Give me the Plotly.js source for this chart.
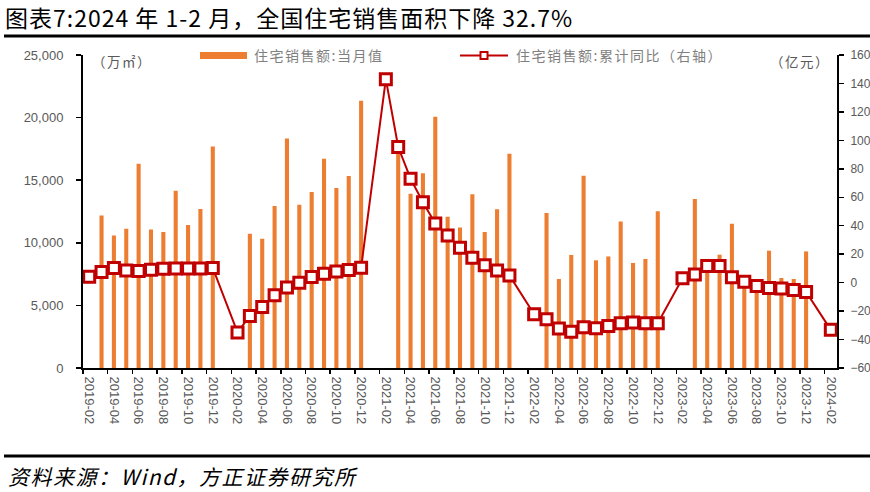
<!DOCTYPE html>
<html>
<head>
<meta charset="utf-8">
<script src="https://cdn.plot.ly/plotly-3.0.1.min.js"></script>
<style>
html,body{margin:0;padding:0;background:#fff;}
#chart{width:870px;height:492px;}
.annotation-text{letter-spacing:1.5px;}
.gtitle{letter-spacing:1px;}
</style>
</head>
<body>
<div id="chart"></div>
<script>
// Categories: monthly, 2019-02 .. 2024-02
const months = [
 "2019-02","2019-03","2019-04","2019-05","2019-06","2019-07","2019-08","2019-09","2019-10","2019-11","2019-12",
 "2020-01","2020-02","2020-03","2020-04","2020-05","2020-06","2020-07","2020-08","2020-09","2020-10","2020-11","2020-12",
 "2021-01","2021-02","2021-03","2021-04","2021-05","2021-06","2021-07","2021-08","2021-09","2021-10","2021-11","2021-12",
 "2022-01","2022-02","2022-03","2022-04","2022-05","2022-06","2022-07","2022-08","2022-09","2022-10","2022-11","2022-12",
 "2023-01","2023-02","2023-03","2023-04","2023-05","2023-06","2023-07","2023-08","2023-09","2023-10","2023-11","2023-12",
 "2024-01","2024-02"
];
// 住宅销售额:当月值 (left axis)
const monthlyValue = [
 null,12190,10590,11130,16320,11070,10860,14160,11420,12700,17700,
 null,null,10730,10330,12940,18340,13040,14060,16720,14370,15340,21350,
 null,null,17600,13920,15550,20070,12080,11230,13870,10860,12670,17120,
 null,null,12380,7110,9030,15360,8600,8910,11710,8390,8710,12510,
 null,null,13500,8300,9050,11530,6900,6800,9370,7190,7110,9310,
 null,null
];
// 住宅销售额:累计同比 (right axis, %)
const cumYoY = [
 4.2,7.4,10.2,8.6,8.1,9.1,9.8,10.0,10.0,10.0,10.3,
 null,-35.0,-23.4,-17.1,-8.9,-3.5,0.0,3.9,6.3,7.9,8.8,10.5,
 null,143.0,95.3,73.1,56.5,41.6,33.1,24.5,17.5,12.3,8.6,5.1,
 null,-22.2,-25.7,-32.3,-34.6,-31.3,-32.0,-30.4,-28.5,-28.1,-28.5,-28.5,
 null,3.0,5.8,11.7,11.7,3.7,0.7,-2.4,-3.8,-4.2,-5.2,-6.6,
 null,-33.2
];
const barName = "住宅销售额:当月值";
const lineName = "住宅销售额:累计同比（右轴）";
const titleText = "图表7:2024 年 1-2 月，全国住宅销售面积下降 32.7%";
const sourceText = "资料来源：Wind，方正证券研究所";

// plot area in pixels
const L = 83, R = 837, T = 55, B = 368;
const W = R - L, H = B - T;
const px = x => (x - L) / W;
const py = y => (B - y) / H;

const ORANGE = "#ED7D31";
const RED = "#C00000";
const GREY = "#595959";
const CJK = "Noto Sans CJK SC, sans-serif";
const NUM = "Liberation Sans, Arial, sans-serif";

const traces = [
 {
  type: "bar", x: months, y: monthlyValue, name: barName,
  marker: {color: ORANGE}, width: 0.33, yaxis: "y", showlegend: false,
  hoverinfo: "x+y"
 },
 {
  type: "scatter", mode: "lines+markers", x: months, y: cumYoY, name: lineName,
  yaxis: "y2", connectgaps: true, showlegend: false,
  line: {color: RED, width: 2},
  marker: {symbol: "square", size: 11, color: "#ffffff", line: {color: RED, width: 3}}
 }
];

const ann = (text, x, y, size, color, extra) => Object.assign({
  text: text, xref: "paper", yref: "paper", x: px(x), y: py(y),
  xanchor: "left", yanchor: "middle", align: "left", showarrow: false,
  font: {family: CJK, size: size, color: color}
}, extra || {});

const layout = {
 width: 870, height: 492,
 margin: {l: L, r: 870 - R, t: T, b: 492 - B, pad: 0},
 paper_bgcolor: "#fff", plot_bgcolor: "#fff",
 showlegend: false,
 title: {
  text: titleText, xref: "container", yref: "container",
  x: 5/870, xanchor: "left", y: 1 - 19/492, yanchor: "middle",
  font: {family: CJK, size: 23, color: "#000"}
 },
 xaxis: {
  type: "category", range: [-0.5, 60.5],
  tickmode: "linear", tick0: 0, dtick: 2, tickson: "boundaries",
  tickangle: 90, ticks: "outside", ticklen: 4, tickwidth: 1.5, tickcolor: "#000",
  showline: true, linecolor: "#000", linewidth: 2, showgrid: false, zeroline: false,
  ticklabelstandoff: 4,
  tickfont: {family: NUM, size: 13, color: GREY}, fixedrange: true
 },
 yaxis: {
  range: [0, 25000], dtick: 5000, tickformat: ",d",
  ticks: "outside", ticklen: 5, tickwidth: 1.5, tickcolor: "#000",
  showline: true, linecolor: "#000", linewidth: 2, showgrid: false, zeroline: false,
  ticklabelstandoff: 10,
  tickfont: {family: NUM, size: 13, color: GREY}, fixedrange: true
 },
 yaxis2: {
  range: [-60, 160], dtick: 20, overlaying: "y", side: "right",
  ticks: "outside", ticklen: 5, tickwidth: 1.5, tickcolor: "#000",
  showline: true, linecolor: "#000", linewidth: 2, showgrid: false, zeroline: false,
  ticklabelstandoff: 4,
  tickfont: {family: NUM, size: 12, color: GREY}, fixedrange: true
 },
 shapes: [
  // title rule and footer rule
  {type: "line", xref: "paper", yref: "paper", x0: px(4), x1: px(870), y0: py(36), y1: py(36), line: {color: "#000", width: 3}},
  {type: "line", xref: "paper", yref: "paper", x0: px(4), x1: px(870), y0: py(456), y1: py(456), line: {color: "#000", width: 3}},
  // legend: bar swatch
  {type: "rect", xref: "paper", yref: "paper", x0: px(200), x1: px(247), y0: py(59), y1: py(52), fillcolor: ORANGE, line: {width: 0}},
  // legend: line swatch
  {type: "line", xref: "paper", yref: "paper", x0: px(460), x1: px(508), y0: py(55.5), y1: py(55.5), line: {color: RED, width: 2}},
  {type: "rect", xref: "paper", yref: "paper", x0: px(480.5), x1: px(487.5), y0: py(59), y1: py(52), fillcolor: "#fff", line: {color: RED, width: 2}}
 ],
 annotations: [
  ann(barName, 252, 55, 14, "#7F7F7F"),
  ann(lineName, 514, 55, 14, "#7F7F7F"),
  ann("（万㎡）", 90, 61, 13.5, GREY),
  ann("（亿元）", 768, 61, 13.5, GREY),
  ann(sourceText, 6, 476, 21, "#000", {font: {family: CJK, size: 21, color: "#000", style: "italic"}})
 ]
};

Plotly.newPlot("chart", traces, layout, {displayModeBar: false, staticPlot: true});
</script>
</body>
</html>
